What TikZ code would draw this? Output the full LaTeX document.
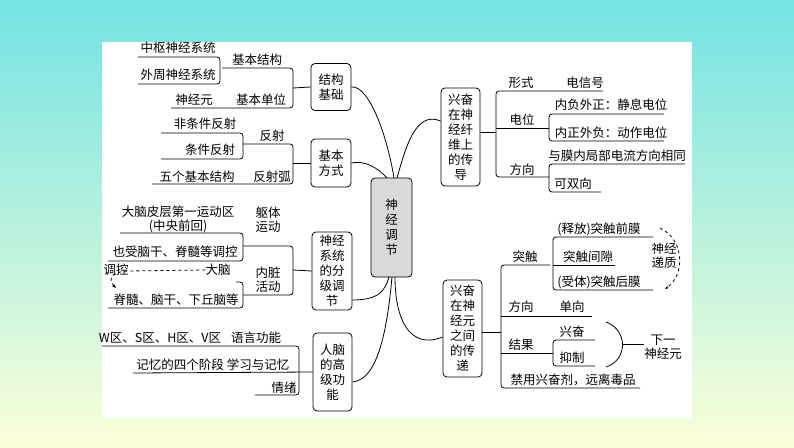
\documentclass[tikz,border=0pt]{standalone}
\usepackage{fontspec}
\setmainfont{Noto Sans CJK SC}
\usetikzlibrary{arrows.meta}
\begin{document}
\begin{tikzpicture}[x=1pt,y=-1pt,
  box/.style={draw,thick,rounded corners=4pt,align=center,inner sep=0pt,font=\fontsize{12.5}{15}\selectfont},
  t/.style={inner sep=0pt,font=\fontsize{12.5}{13}\selectfont,align=center},
  ln/.style={thick,rounded corners=3pt},
  cv/.style={thick}]
\shade[top color=cyan!60!teal!55,bottom color=green!10!yellow!15] (0,0) rectangle (794,447);
\fill[white] (102,42) rectangle (692,418);
\useasboundingbox (0,0) rectangle (794,447);
% boxes
\node[box,fill=gray!30,minimum width=41,minimum height=99] (c) at (391.5,227.5) {神\\经\\调\\节};
\node[box,minimum width=40,minimum height=47] (b1) at (331,87) {结构\\基础};
\node[box,minimum width=40,minimum height=48] (b2) at (331,163) {基本\\方式};
\node[box,minimum width=40,minimum height=78] (b3) at (332,271) {神经\\系统\\的分\\级调\\节};
\node[box,minimum width=39,minimum height=78] (b4) at (332.5,372) {人脑\\的高\\级功\\能};
\node[box,minimum width=39,minimum height=98] (r1) at (460.5,137) {兴奋\\在神\\经纤\\维上\\的传\\导};
\node[box,minimum width=39,minimum height=97] (r2) at (462.5,328.5) {兴奋\\在神\\经元\\之间\\的传\\递};
% curves
\draw[cv] (b1.east) .. controls (370,85) and (388,140) .. (394,178);
\draw[cv] (b2.east) .. controls (365,160) and (378,168) .. (387,178);
\draw[cv] (b3.east |- 0,300) .. controls (380,300) and (385,290) .. (389,277);
\draw[cv] (b4.east |- 0,382) .. controls (380,380) and (388,320) .. (392,277);
\draw[cv] (r1.west |- 0,121) .. controls (415,110) and (405,150) .. (397,178);
\draw[cv] (r2.west |- 0,337) .. controls (410,350) and (395,320) .. (395,277);
% left 1
\draw[ln] (222,68) -- (293,68) -- (293,108) -- (171,108);
\draw[thick] (293,88) -- (b1.west);
\draw[ln] (138,57) -- (220,57) -- (220,84) -- (138,84);
\node[t] (a1) at (178,48) {中枢神经系统};
\node[t] (a2) at (178,75) {外周神经系统};
\node[t] (a3) at (257,60) {基本结构};
\node[t] (a4) at (194,100) {神经元};
\node[t] (a5) at (261,100) {基本单位};
% left 2
\draw[ln] (243,144) -- (293,144) -- (293,184) -- (152,184);
\draw[thick] (293,163) -- (b2.west);
\draw[ln] (161,133) -- (243,133) -- (243,159) -- (161,159);
\node[t] (c1) at (205,124) {非条件反射};
\node[t] (c2) at (210,150) {条件反射};
\node[t] (c3) at (272,136) {反射};
\node[t] (c4) at (197,177) {五个基本结构};
\node[t] (c5) at (272,177) {反射弧};
% left 3
\draw[ln] (243,246) -- (293,246) -- (293,295) -- (243,295);
\draw[thick] (293,270) -- (b3.west);
\draw[ln] (120,233) -- (243,233) -- (243,261) -- (108,261);
\draw[ln] (236,282) -- (243,282) -- (243,308) -- (108,308);
\node[t] (d1) at (178,212) {大脑皮层第一运动区};
\node[t] (d2) at (178,226) {(中央前回)};
\node[t] (d3) at (268,220) {躯体\\[1pt]运动};
\node[t] (d4) at (175,252) {也受脑干、脊髓等调控};
\node[t] (d5) at (116,270) {调控};
\node[t] (d6) at (218,270) {大脑};
\node[t] (d7) at (268,280) {内脏\\[1pt]活动};
\node[t] (d8) at (176,300) {脊髓、脑干、下丘脑等};
\draw[thick,dashed,-{Stealth[length=4pt]}] (d6.west) -- (128,271) .. controls (110,272) and (108,280) .. (116,288);
% left 4
\draw[ln] (102,346) -- (299,346) -- (299,395) -- (255,395);
\draw[thick] (133,373) -- (b4.west);
\node[t] (e1) at (160,338) {W区、S区、H区、V区};
\node[t] (e2) at (256,338) {语言功能};
\node[t] (e3) at (180,365) {记忆的四个阶段};
\node[t] (e4) at (258,365) {学习与记忆};
\node[t] (e5) at (284,388) {情绪};
% right 1
\draw[thick] (r1.east |- 0,132) -- (496,132);
\draw[ln] (603,91) -- (496,91) -- (496,177) -- (549,177);
\draw[thick] (496,128) -- (549,128);
\draw[ln] (664,114) -- (549,114) -- (549,141) -- (664,141);
\draw[ln] (685,164) -- (549,164) -- (549,192) -- (601,192);
\node[t] (f1) at (521,83) {形式};
\node[t] (f2) at (585,83) {电信号};
\node[t] (f3) at (522,120) {电位};
\node[t] (f4) at (611,105) {内负外正：静息电位};
\node[t] (f5) at (611,133) {内正外负：动作电位};
\node[t] (f6) at (522,170) {方向};
\node[t] (f7) at (617,156) {与膜内局部电流方向相同};
\node[t] (f8) at (573,184) {可双向};
% right 2
\draw[thick] (r2.east |- 0,332) -- (501,332);
\draw[ln] (550,265) -- (501,265) -- (501,388) -- (640,388);
\draw[thick] (501,316) -- (592,316);
\draw[thick] (501,353) -- (553,353);
\draw[ln] (653,237) -- (553,237) -- (553,290) -- (653,290);
\draw[thick] (553,265) -- (615,265);
\draw[ln] (595,340) -- (553,340) -- (553,366) -- (595,366);
\node[t] (g1) at (599,229) {(释放)突触前膜};
\node[t] (g2) at (588,257) {突触间隙};
\node[t] (g3) at (599,282) {(受体)突触后膜};
\node[t] (g4) at (525,257) {突触};
\node[t] (g5) at (521,307) {方向};
\node[t] (g6) at (572,307) {单向};
\node[t] (g7) at (521,345) {结果};
\node[t] (g8) at (572,332) {兴奋};
\node[t] (g9) at (572,358) {抑制};
\node[t] (g10) at (573,380) {禁用兴奋剂，远离毒品};
\node[t] (g11) at (664,256) {神经\\[1pt]递质};
\draw[thick,dashed,-{Stealth[length=4pt]}] (660,228) .. controls (685,240) and (685,275) .. (665,289);
\node[t] (g12) at (663,347) {下一\\[1pt]神经元};
\draw[thick] (606,322) .. controls (628,330) and (628,360) .. (606,367);
\draw[thick] (623,344) -- (g12.west |- 0,344);
\end{tikzpicture}
\end{document}
